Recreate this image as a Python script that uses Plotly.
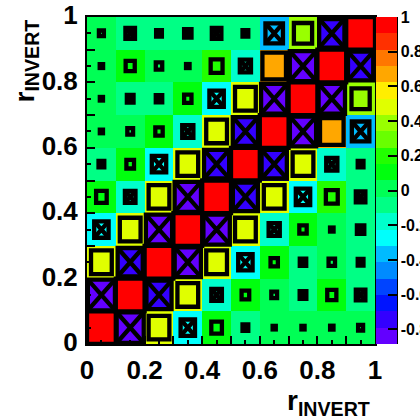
import colorsys
import plotly.graph_objects as go

# ---------------- data ----------------
bin_centers = [0.05, 0.15, 0.25, 0.35, 0.45, 0.55, 0.65, 0.75, 0.85, 0.95]

# correlation matrix, rows from bottom (y bin 0) to top (y bin 9)
row_0 = [1.00, -0.884, 0.52, -0.25, 0.135, -0.04, 0.012, 0.012, 0.014, 0.03]
row_1 = [-0.884, 1.00, -0.76, 0.52, -0.135, 0.07, 0.04, -0.054, 0.10, -0.11]
row_2 = [0.52, -0.76, 1.00, -0.83, 0.52, -0.25, 0.065, -0.05, 0.05, -0.04]
row_3 = [-0.25, 0.52, -0.83, 1.00, -0.84, 0.52, -0.15, 0.065, 0.015, -0.066]
row_4 = [0.135, -0.135, 0.52, -0.84, 1.00, -0.76, 0.52, -0.25, 0.17, -0.11]
row_5 = [-0.04, 0.07, -0.25, 0.52, -0.76, 1.00, -0.77, 0.52, -0.15, -0.04]
row_6 = [0.012, 0.04, 0.065, -0.15, 0.52, -0.77, 1.00, -0.83, 0.67, -0.37]
row_7 = [0.012, -0.054, -0.05, 0.065, -0.25, 0.52, -0.83, 1.00, -0.84, 0.40]
row_8 = [0.014, 0.10, 0.05, 0.015, 0.17, -0.15, 0.67, -0.84, 1.00, -0.77]
row_9 = [0.03, -0.11, -0.04, -0.066, -0.11, -0.04, -0.37, 0.40, -0.77, 1.00]
corr = [row_0, row_1, row_2, row_3, row_4, row_5, row_6, row_7, row_8, row_9]

axis_tickvals = [0.0, 0.1, 0.2, 0.3, 0.4, 0.5, 0.6, 0.7, 0.8, 0.9, 1.0]
axis_ticktext = ["0", "", "0.2", "", "0.4", "", "0.6", "", "0.8", "", "1"]
cbar_tickvals = [-0.8, -0.6, -0.4, -0.2, 0.0, 0.2, 0.4, 0.6, 0.8, 1.0]
cbar_ticktext = ["-0.8", "-0.6", "-0.4", "-0.2", "0", "0.2", "0.4", "0.6", "0.8", "1"]
axis_title = "r<sub>INVERT</sub>"

# ---------------- style ----------------
N_LEVELS = 20
N_PAL = 50
zmin = min(min(r) for r in corr)
zmax = 1.0
BOX_LW = 4.3


def root_pretty_color(k):
    idx = int((k + 0.99) * N_PAL / N_LEVELS)
    idx = min(idx, N_PAL - 1)
    hue = 280.0 - (idx + 1) * (280.0 / N_PAL)
    r, g, b = colorsys.hls_to_rgb(hue / 360.0, 0.5, 1.0)
    return "rgb(%d,%d,%d)" % (round(r * 255), round(g * 255), round(b * 255))


colorscale = []
for k in range(N_LEVELS):
    c = root_pretty_color(k)
    colorscale.append([k / N_LEVELS, c])
    colorscale.append([(k + 1) / N_LEVELS, c])

fig = go.Figure()
fig.add_trace(go.Heatmap(
    x=bin_centers, y=bin_centers, z=corr,
    zmin=zmin, zmax=zmax, colorscale=colorscale,
    colorbar=dict(
        x=1 + 1.0 / 288, xanchor="left", xpad=0,
        y=0.5, yanchor="middle", ypad=0,
        len=1, lenmode="fraction", thickness=21, thicknessmode="pixels",
        tickvals=cbar_tickvals, ticktext=cbar_ticktext,
        ticks="inside", ticklen=9, tickwidth=2, tickcolor="black",
        outlinewidth=0,
        tickfont=dict(family="Liberation Sans", size=16, color="black", weight="bold"),
    ),
    hoverinfo="skip",
))

# boxes (area proportional to |content|), crossed for negative content
half = 0.05
shapes = []
for j, yc in enumerate(bin_centers):
    for i, xc in enumerate(bin_centers):
        v = corr[j][i]
        s = (abs(v) / zmax) ** 0.5
        x0, x1 = xc - half * s, xc + half * s
        y0, y1 = yc - half * s, yc + half * s
        shapes.append(dict(type="rect", xref="x", yref="y", x0=x0, x1=x1, y0=y0, y1=y1,
                           line=dict(color="black", width=BOX_LW), fillcolor="rgba(0,0,0,0)"))
        if v < 0:
            shapes.append(dict(type="path", xref="x", yref="y",
                               path="M %f,%f L %f,%f M %f,%f L %f,%f" % (x0, y0, x1, y1, x0, y1, x1, y0),
                               line=dict(color="black", width=BOX_LW)))

# right edge line of the palette
shapes.append(dict(type="line", xref="paper", yref="paper",
                   x0=1 + 22.0 / 288, x1=1 + 22.0 / 288, y0=0, y1=1,
                   line=dict(color="black", width=2)))

axis_common = dict(
    range=[0, 1], tickmode="array", tickvals=axis_tickvals, ticktext=axis_ticktext,
    ticks="inside", ticklen=8, tickwidth=2, tickcolor="black",
    minor=dict(dtick=0.05, ticks="inside", ticklen=4, tickwidth=2, tickcolor="black"),
    showline=True, mirror=True, linewidth=2, linecolor="black",
    showgrid=False, zeroline=False,
    tickfont=dict(family="Liberation Sans", size=26, color="black", weight="bold"),
)

fig.update_layout(
    width=420, height=417,
    margin=dict(l=87, r=45, t=17, b=73, autoexpand=False),
    paper_bgcolor="white", plot_bgcolor="white",
    xaxis=dict(**axis_common, ticklabelstandoff=2),
    yaxis=dict(**axis_common, ticklabelstandoff=2, ticklabelshift=-2),
    shapes=shapes,
    annotations=[
        dict(text=axis_title, xref="paper", yref="paper",
             x=(372 - 87) / 288.0, y=(344 - 402) / 327.0, xanchor="right", yanchor="middle",
             showarrow=False,
             font=dict(family="Liberation Sans", size=28, color="black", weight="bold")),
        dict(text=axis_title, xref="paper", yref="paper", textangle=-90,
             x=(26 - 87) / 288.0, y=(344 - 18) / 327.0, xanchor="center", yanchor="top",
             showarrow=False,
             font=dict(family="Liberation Sans", size=28, color="black", weight="bold")),
    ],
)

fig.write_html("out.html")
